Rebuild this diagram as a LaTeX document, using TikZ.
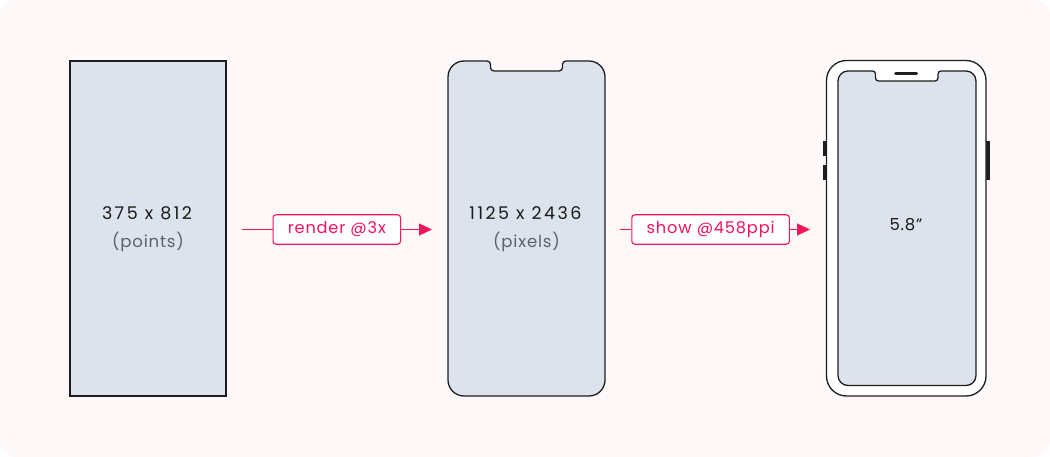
\documentclass[tikz,border=0pt]{standalone}
\usepackage{fontspec}
\setmainfont{Poppins}[LetterSpace=5]
\newfontfamily\widenum{Poppins}[LetterSpace=14]
\usetikzlibrary{arrows.meta}
\definecolor{bgpink}{HTML}{FEF8F9}
\definecolor{screen}{HTML}{DCE3EC}
\definecolor{edge}{HTML}{1E1E1E}
\definecolor{accent}{HTML}{F2145C}
\definecolor{subgrey}{HTML}{5C6168}
\definecolor{maintext}{HTML}{1A1A1A}
\tikzset{
  shapeline/.style={draw=edge, line width=1.3pt},
  maintxt/.style={text=maintext, font=\widenum\fontsize{17.5}{20}\selectfont, inner sep=0pt, anchor=base},
  sizetxt/.style={text=maintext, font=\fontsize{16.5}{19}\selectfont, inner sep=0pt, anchor=base},
  subtxt/.style={text=subgrey, font=\fontsize{16.5}{19}\selectfont, inner sep=0pt, anchor=base},
  tagbox/.style={draw=accent, line width=1.1pt, rounded corners=3pt, fill=white, text=accent,
    font=\fontsize{16.2}{19}\selectfont, inner sep=0pt, minimum height=29.5pt},
  conn/.style={draw=accent, line width=1.1pt},
  connarrow/.style={conn, -{Triangle[length=13pt, width=12pt]}},
}
\begin{document}
\begin{tikzpicture}[x=1pt,y=-1pt]
\useasboundingbox (0,0) rectangle (1050,457);
\fill[white] (0,0) rectangle (1050,457);
\fill[bgpink, rounded corners=16pt] (0,0) rectangle (1050,457);

% rectangle 1
\node[shapeline, fill=screen, minimum width=156pt, minimum height=335pt, inner sep=0pt] (r1) at (148,228.5) {};
\node[maintxt] (t1) at (147,219.5) {375 x 812};
\node[subtxt] (s1) at (148,247.7) {(points)};

% phone 2
\draw[shapeline, fill=screen]
  (448,77) .. controls (448,68.16) and (455.16,61) .. (464,61)
  -- (487,61) .. controls (489,61) and (490.5,62.5) .. (490.5,64.5) -- (490.5,67.5)
  .. controls (490.5,69.5) and (492,71) .. (494,71)
  -- (559,71) .. controls (561,71) and (562.5,69.5) .. (562.5,67.5) -- (562.5,64.5)
  .. controls (562.5,62.5) and (564,61) .. (566,61)
  -- (589,61) .. controls (597.84,61) and (605,68.16) .. (605,77)
  -- (605,380) .. controls (605,388.84) and (597.84,396) .. (589,396)
  -- (464,396) .. controls (455.16,396) and (448,388.84) .. (448,380) -- cycle;
\node[maintxt] (t2) at (525.5,219.5) {1125 x 2436};
\node[subtxt] (s2) at (526.5,247.7) {(pixels)};

% phone 3
\fill[edge] (822.5,141) rectangle (826,156);
\fill[edge] (822.5,165) rectangle (826,180);
\fill[edge] (986,141) rectangle (989.5,180);
\draw[shapeline, fill=white, rounded corners=20pt] (826.5,60.5) rectangle (986,396);
\draw[shapeline, fill=screen]
  (838,81) .. controls (838,75.48) and (842.48,71) .. (848,71)
  -- (872.5,71) .. controls (874.2,71) and (875.5,72.3) .. (875.5,74) -- (875.5,78)
  .. controls (875.5,79.7) and (876.8,81) .. (878.5,81)
  -- (935,81) .. controls (936.7,81) and (938,79.7) .. (938,78) -- (938,74)
  .. controls (938,72.3) and (939.3,71) .. (941,71)
  -- (966,71) .. controls (971.52,71) and (976,75.48) .. (976,81)
  -- (976,375.5) .. controls (976,381.02) and (971.52,385.5) .. (966,385.5)
  -- (848,385.5) .. controls (842.48,385.5) and (838,381.02) .. (838,375.5) -- cycle;
\draw[edge, line width=3pt, line cap=round] (895.5,73.5) -- (916.5,73.5);
\node[sizetxt] (t3) at (906,231) {5.8”};

% connectors
\coordinate (c1s) at (242,229.5);
\coordinate (c1e) at (432,229.5);
\node[tagbox, minimum width=127.5pt] (l1) at (336.8,229.5) {render @3x};
\draw[conn] (c1s) -- (l1.west);
\draw[connarrow] (l1.east) -- (c1e);

\coordinate (c2s) at (620,229.5);
\coordinate (c2e) at (810,229.5);
\node[tagbox, minimum width=157.5pt] (l2) at (710.6,229.5) {show @458ppi};
\draw[conn] (c2s) -- (l2.west);
\draw[connarrow] (l2.east) -- (c2e);
\end{tikzpicture}
\end{document}
